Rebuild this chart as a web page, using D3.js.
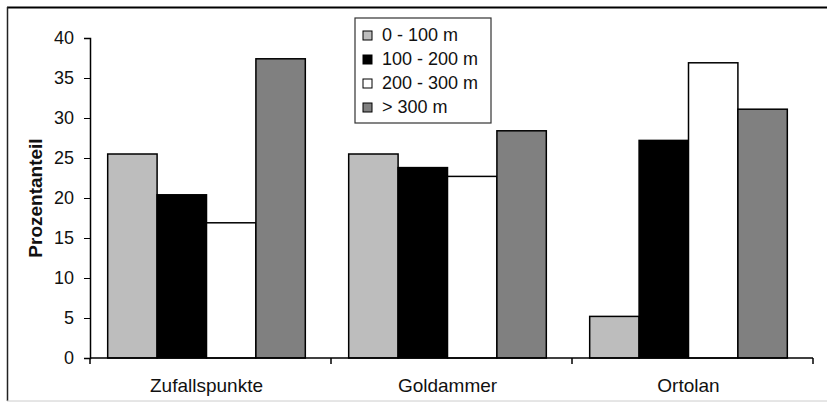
<!DOCTYPE html>
<html>
<head>
<meta charset="utf-8">
<script src="https://cdn.jsdelivr.net/npm/d3@7"></script>
<style>
  body { margin: 0; background: #fff; }
  text { font-family: "Liberation Sans", Arial, sans-serif; fill: #111; }
</style>
</head>
<body>
<div id="chart"></div>
<script>
// data
const categories = ["Zufallspunkte", "Goldammer", "Ortolan"];
const classes = ["0 - 100 m", "100 - 200 m", "200 - 300 m", "> 300 m"];
const zufallspunkte = [25.5, 20.4, 16.9, 37.4];
const goldammer = [25.5, 23.8, 22.7, 28.4];
const ortolan = [5.2, 27.2, 36.9, 31.1];
const yTicks = [0, 5, 10, 15, 20, 25, 30, 35, 40];
const colors = ["#bdbdbd", "#000000", "#ffffff", "#808080"];

const series = [zufallspunkte, goldammer, ortolan];

const W = 830, H = 408;
const margin = { top: 38, right: 17, bottom: 50, left: 90 },
    width = W - margin.left - margin.right,
    height = H - margin.top - margin.bottom;

const root = d3.select("#chart")
    .append("svg")
    .attr("width", W)
    .attr("height", H);

// outer frame
root.append("line").attr("x1", 7).attr("x2", 827).attr("y1", 7.5).attr("y2", 7.5)
    .attr("stroke", "#000").attr("stroke-width", 2);
root.append("line").attr("x1", 7.5).attr("x2", 7.5).attr("y1", 7).attr("y2", 401)
    .attr("stroke", "#222").attr("stroke-width", 1.5);
root.append("line").attr("x1", 7).attr("x2", 827).attr("y1", 401).attr("y2", 401)
    .attr("stroke", "#ccc").attr("stroke-width", 1);

const svg = root.append("g")
    .attr("transform", "translate(" + margin.left + "," + margin.top + ")");

// scales (bars sit a little left of the band centres, as in the original)
const x0 = d3.scaleBand()
    .domain(categories)
    .range([-4, width - 4])
    .paddingInner(0.18)
    .paddingOuter(0.09);

const x1 = d3.scaleBand()
    .domain(classes)
    .range([0, x0.bandwidth()]);

const y = d3.scaleLinear()
    .domain([0, 40])
    .range([height, 0]);

// bars
const groups = svg.selectAll("g.group")
    .data(categories)
    .enter()
    .append("g")
    .attr("class", "group")
    .attr("transform", d => "translate(" + x0(d) + ",0)");

groups.selectAll("rect")
    .data((d, i) => series[i].map((v, j) => ({ cls: classes[j], value: v, c: colors[j] })))
    .enter()
    .append("rect")
    .attr("x", d => x1(d.cls))
    .attr("y", d => y(d.value))
    .attr("width", x1.bandwidth())
    .attr("height", d => height - y(d.value))
    .attr("fill", d => d.c)
    .attr("stroke", "#000")
    .attr("stroke-width", 1.5);

// Y axis
const yAxis = svg.append("g")
    .call(d3.axisLeft(y).tickValues(yTicks).tickSize(6).tickPadding(10));
yAxis.select(".domain").attr("stroke", "#000").attr("stroke-width", 1.5);
yAxis.selectAll("text").style("font-size", "18px").attr("fill", "#111");

// X axis: ticks at the category boundaries
const step = width / categories.length;
const boundaries = d3.range(categories.length + 1).map(i => i * step);
svg.append("line")
    .attr("x1", 0).attr("x2", width)
    .attr("y1", height).attr("y2", height)
    .attr("stroke", "#000").attr("stroke-width", 1.5);
svg.selectAll("line.xtick")
    .data(boundaries)
    .enter()
    .append("line")
    .attr("class", "xtick")
    .attr("x1", d => d).attr("x2", d => d)
    .attr("y1", height).attr("y2", height + 6)
    .attr("stroke", "#000").attr("stroke-width", 1.5);
svg.selectAll("text.xlabel")
    .data(categories)
    .enter()
    .append("text")
    .attr("class", "xlabel")
    .attr("x", d => x0(d) + x0.bandwidth() / 2)
    .attr("y", height + 34)
    .attr("text-anchor", "middle")
    .style("font-size", "19px")
    .text(d => d);

// Y axis title
svg.append("text")
    .attr("transform", "translate(" + (-48) + "," + (height / 2) + ") rotate(-90)")
    .attr("text-anchor", "middle")
    .style("font-size", "19px")
    .style("font-weight", "bold")
    .text("Prozentanteil");

// legend
const legend = root.append("g").attr("transform", "translate(355,18)");
legend.append("rect")
    .attr("width", 136).attr("height", 105)
    .attr("fill", "#fff")
    .attr("stroke", "#333").attr("stroke-width", 1.2);
const items = legend.selectAll("g.item")
    .data(classes)
    .enter()
    .append("g")
    .attr("class", "item")
    .attr("transform", (d, i) => "translate(8," + (17 + i * 24) + ")");
items.append("rect")
    .attr("x", 0).attr("y", -4)
    .attr("width", 9).attr("height", 9)
    .attr("fill", (d, i) => colors[i])
    .attr("stroke", "#000").attr("stroke-width", 1);
items.append("text")
    .attr("x", 19).attr("y", 0)
    .attr("dy", "0.35em")
    .style("font-size", "18px")
    .text(d => d);
</script>
</body>
</html>
